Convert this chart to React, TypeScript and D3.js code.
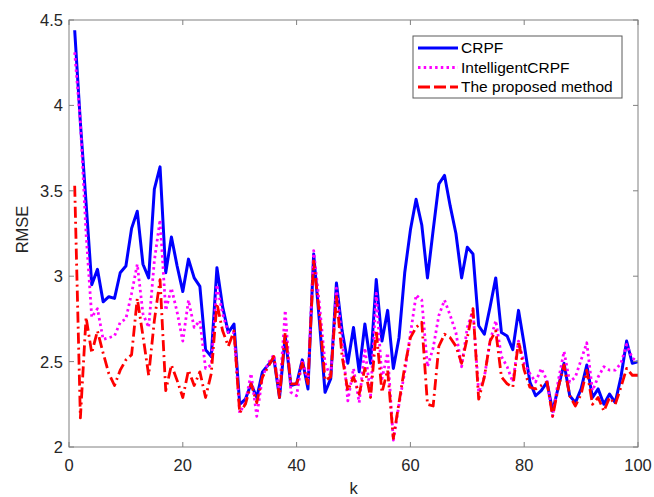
import React from "react";
import * as d3 from "d3";

// RMSE per time step k for each filter
const kSteps = d3.range(1, 101);

const crpf = [
  4.44, 3.9, 3.43, 2.95, 3.04, 2.85, 2.88, 2.87, 3.02, 3.06,
  3.28, 3.38, 3.07, 2.99, 3.51, 3.64, 3.02, 3.23, 3.06, 2.91,
  3.1, 2.99, 2.94, 2.57, 2.53, 3.05, 2.82, 2.67, 2.72, 2.25,
  2.28, 2.37, 2.29, 2.44, 2.48, 2.52, 2.29, 2.65, 2.36, 2.37,
  2.51, 2.34, 3.13, 2.74, 2.32, 2.4, 2.96, 2.68, 2.49, 2.7,
  2.44, 2.72, 2.49, 2.98, 2.62, 2.8, 2.46, 2.64, 3.02, 3.27,
  3.45, 3.3, 2.99, 3.27, 3.54, 3.59, 3.41, 3.25, 2.99, 3.17,
  3.13, 2.71, 2.66, 2.82, 2.99, 2.67, 2.65, 2.57, 2.8, 2.6,
  2.38, 2.3, 2.33, 2.38, 2.21, 2.35, 2.49, 2.3, 2.26, 2.34,
  2.48, 2.29, 2.34, 2.25, 2.31, 2.26, 2.41, 2.62, 2.49, 2.5,
];

const intelligentCrpf = [
  4.31, 3.9, 3.25, 2.76, 2.81, 2.63, 2.64, 2.65, 2.73, 2.75,
  2.9, 3.07, 2.78, 2.7, 3.09, 3.33, 2.8, 2.93, 2.79, 2.62,
  2.86, 2.7, 2.74, 2.46, 2.48, 2.95, 2.78, 2.67, 2.67, 2.2,
  2.26, 2.43, 2.18, 2.41, 2.49, 2.54, 2.32, 2.8, 2.32, 2.3,
  2.51, 2.39, 3.15, 2.84, 2.49, 2.41, 2.93, 2.63, 2.27, 2.46,
  2.26, 2.58, 2.3, 2.9, 2.4, 2.55, 2.04, 2.25, 2.44, 2.66,
  2.89, 2.86, 2.47, 2.58, 2.77, 2.86, 2.77, 2.67, 2.47, 2.7,
  2.8, 2.32, 2.41, 2.62, 2.74, 2.53, 2.47, 2.38, 2.62, 2.49,
  2.43, 2.38, 2.46, 2.39, 2.18, 2.39, 2.56, 2.38, 2.41, 2.51,
  2.61, 2.33, 2.41, 2.47, 2.45, 2.45, 2.49, 2.6, 2.52, 2.5,
];

const proposed = [
  3.53, 2.17, 2.76, 2.55, 2.68, 2.55, 2.43, 2.36, 2.45, 2.51,
  2.54, 2.87, 2.65, 2.42, 2.74, 2.98, 2.33, 2.48, 2.39, 2.29,
  2.45, 2.36, 2.44, 2.29, 2.43, 2.84, 2.68, 2.59, 2.68, 2.2,
  2.25, 2.37, 2.26, 2.41, 2.47, 2.53, 2.29, 2.67, 2.37, 2.37,
  2.49, 2.37, 3.09, 2.78, 2.39, 2.41, 2.88, 2.53, 2.33, 2.41,
  2.31, 2.46, 2.29, 2.68, 2.32, 2.45, 2.05, 2.26, 2.47, 2.64,
  2.7, 2.73, 2.25, 2.24, 2.59, 2.66, 2.64, 2.59, 2.49, 2.64,
  2.81, 2.28, 2.41, 2.62, 2.68, 2.41, 2.37, 2.35, 2.62, 2.45,
  2.35, 2.34, 2.36, 2.38, 2.18, 2.35, 2.48, 2.3, 2.24, 2.31,
  2.45, 2.25, 2.29, 2.21, 2.29, 2.25, 2.35, 2.46, 2.42, 2.42,
];

const xTicks = [0, 20, 40, 60, 80, 100];
const yTicks = [2, 2.5, 3, 3.5, 4, 4.5];

const seriesNames = ["CRPF", "IntelligentCRPF", "The proposed method"];
const seriesColors = ["#0000ff", "#ff00ff", "#ff0000"];
const seriesDash = [null, "2.5,3.2", "11,4,2,4"];
const legendDash = [null, "2.5,3.2", "12,4"];
const seriesValues = [crpf, intelligentCrpf, proposed];

const W = 654;
const H = 497;
const left = 69;
const right = 638;
const top = 20;
const bottom = 447;

const font = "'Liberation Sans', Arial, sans-serif";
const axisColor = "#808080";
const textColor = "#262626";

export default function App() {
  const x = d3.scaleLinear().domain([0, 100]).range([left, right]);
  const y = d3.scaleLinear().domain([2, 4.5]).range([bottom, top]);
  const line = d3
    .line<number>()
    .x((_, i) => x(kSteps[i]))
    .y((d) => y(d));

  const tickLen = 5;

  return (
    <svg
      width={W}
      height={H}
      style={{ position: "absolute", left: 0, top: 0, background: "#fff" }}
      fontFamily={font}
    >
      <rect x={0} y={0} width={W} height={H} fill="#fff" />
      <defs>
        <clipPath id="plotClip">
          <rect x={left} y={top - 2} width={right - left} height={bottom - top + 4} />
        </clipPath>
      </defs>

      {/* series */}
      <g clipPath="url(#plotClip)">
        {seriesValues.map((vals, i) => (
          <path
            key={seriesNames[i]}
            d={line(vals) || ""}
            fill="none"
            stroke={seriesColors[i]}
            strokeWidth={i === 0 ? 3 : 2.8}
            strokeDasharray={seriesDash[i] || undefined}
            strokeLinejoin="round"
          />
        ))}
      </g>

      {/* axes box */}
      <rect
        x={left}
        y={top}
        width={right - left}
        height={bottom - top}
        fill="none"
        stroke={axisColor}
        strokeWidth={1}
      />

      {/* x ticks */}
      {xTicks.map((t) => (
        <g key={"x" + t}>
          <line x1={x(t)} x2={x(t)} y1={bottom} y2={bottom - tickLen} stroke={axisColor} />
          <line x1={x(t)} x2={x(t)} y1={top} y2={top + tickLen} stroke={axisColor} />
          <text
            x={x(t)}
            y={bottom + 24}
            textAnchor="middle"
            fontSize={16.5}
            fill={textColor}
          >
            {t}
          </text>
        </g>
      ))}

      {/* y ticks */}
      {yTicks.map((t) => (
        <g key={"y" + t}>
          <line x1={left} x2={left + tickLen} y1={y(t)} y2={y(t)} stroke={axisColor} />
          <line x1={right} x2={right - tickLen} y1={y(t)} y2={y(t)} stroke={axisColor} />
          <text
            x={left - 6}
            y={y(t) + 6}
            textAnchor="end"
            fontSize={16.5}
            fill={textColor}
          >
            {t}
          </text>
        </g>
      ))}

      {/* axis titles */}
      <text
        x={(left + right) / 2}
        y={494}
        textAnchor="middle"
        fontSize={16.5}
        fill={textColor}
      >
        k
      </text>
      <text
        transform={`translate(28, ${(top + bottom) / 2 - 4}) rotate(-90)`}
        textAnchor="middle"
        fontSize={16.5}
        fill={textColor}
      >
        RMSE
      </text>

      {/* legend */}
      <g>
        <rect x={413} y={36} width={209} height={62} fill="#fff" stroke="#5a5a5a" strokeWidth={1} />
        {seriesNames.map((name, i) => {
          const ly = 48 + i * 19.5;
          return (
            <g key={"leg" + name}>
              <line
                x1={418}
                x2={458}
                y1={ly}
                y2={ly}
                stroke={seriesColors[i]}
                strokeWidth={i === 0 ? 3 : 2.8}
                strokeDasharray={legendDash[i] || undefined}
              />
              <text x={461} y={ly + 5} fontSize={15.5} fill="#000">
                {name}
              </text>
            </g>
          );
        })}
      </g>
    </svg>
  );
}
